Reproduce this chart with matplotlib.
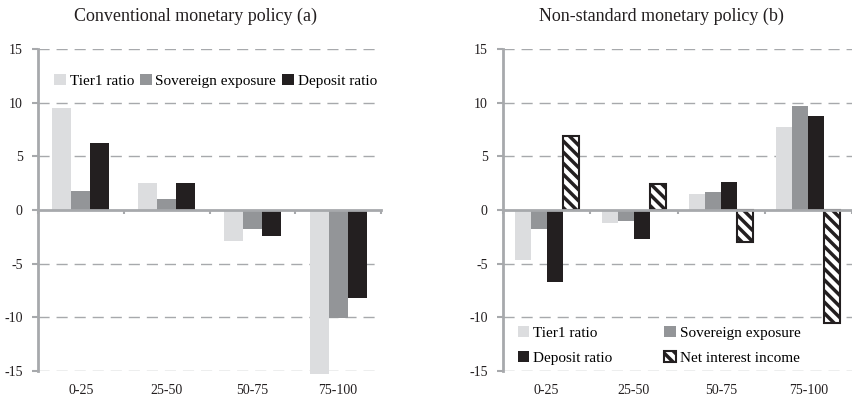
import matplotlib
matplotlib.use("Agg")
import matplotlib.pyplot as plt
import numpy as np

plt.rcParams['font.family'] = ['Liberation Serif', 'DejaVu Serif']
plt.rcParams['hatch.linewidth'] = 2.5

# data
categories = ["0-25", "25-50", "50-75", "75-100"]

conv_tier1 = [9.5, 2.5, -2.9, -15.3]
conv_sov = [1.8, 1.0, -1.8, -10.1]
conv_dep = [6.2, 2.5, -2.4, -8.2]

ns_tier1 = [-4.7, -1.2, 1.5, 7.7]
ns_sov = [-1.8, -1.0, 1.7, 9.7]
ns_dep = [-6.7, -2.7, 2.6, 8.8]
ns_nii = [6.9, 2.4, -3.0, -10.5]

yticks = [-15, -10, -5, 0, 5, 10, 15]

c_tier1 = "#dcdddf"
c_sov = "#939598"
c_dep = "#231f20"
axis_grey = "#a7a9ac"

fig = plt.figure(figsize=(8.52, 4.01), dpi=100)
ax1 = fig.add_axes([0.0446, 0.0748, 0.4026, 0.803])
ax2 = fig.add_axes([0.5904, 0.0748, 0.4096, 0.803])


def style_axis(ax):
    ax.set_xlim(-0.5, 3.5)
    ax.set_ylim(-15, 15)
    ax.set_yticks(yticks)
    ax.set_yticklabels([str(t) for t in yticks], fontsize=10, color="#231f20")
    for t in yticks:
        if t != 0:
            ax.axhline(t, color=axis_grey, lw=1.0, dashes=(8, 5), zorder=0)
    for s in ["top", "right"]:
        ax.spines[s].set_visible(False)
    ax.spines["bottom"].set_position(("data", 0))
    ax.spines["bottom"].set_color(axis_grey)
    ax.spines["left"].set_color(axis_grey)
    ax.spines["bottom"].set_linewidth(2)
    ax.spines["left"].set_linewidth(2)
    ax.spines["bottom"].set_zorder(3)
    ax.tick_params(axis="y", length=4, width=1.5, color=axis_grey, pad=7)
    # ticks at category boundaries on the zero line
    ax.set_xticks(np.arange(len(categories) + 1) - 0.5)
    ax.set_xticklabels([])
    ax.tick_params(axis="x", length=3, width=1.5, color=axis_grey, direction="out")
    for i, lab in enumerate(categories):
        ax.annotate(lab, (i, -15), xytext=(0, -9), textcoords="offset points",
                    ha="center", va="top", fontsize=10, color="#231f20",
                    annotation_clip=False)


# Conventional monetary policy (a)
x = np.arange(len(categories))
w1 = 0.222
ax1.bar(x - w1, conv_tier1, w1, color=c_tier1, label="Tier1 ratio", zorder=2, clip_on=False)
ax1.bar(x, conv_sov, w1, color=c_sov, label="Sovereign exposure", zorder=2)
ax1.bar(x + w1, conv_dep, w1, color=c_dep, label="Deposit ratio", zorder=2)
style_axis(ax1)
ax1.legend(loc="upper left", bbox_to_anchor=(0.03, 0.942), ncol=3, frameon=False,
           fontsize=11, handlelength=0.75, handleheight=0.75, handletextpad=0.25,
           columnspacing=0.4, borderaxespad=0)

# Non-standard monetary policy (b)
w2 = 0.184
b1 = ax2.bar(x - 1.5 * w2, ns_tier1, w2, color=c_tier1, label="Tier1 ratio", zorder=2)
b2 = ax2.bar(x - 0.5 * w2, ns_sov, w2, color=c_sov, label="Sovereign exposure", zorder=2)
b3 = ax2.bar(x + 0.5 * w2, ns_dep, w2, color=c_dep, label="Deposit ratio", zorder=2)
b4 = ax2.bar(x + 1.5 * w2, ns_nii, w2, color="white", edgecolor="#231f20",
             hatch="\\\\\\", lw=1.5, label="Net interest income", zorder=2)
style_axis(ax2)
# row-wise order like the original
ax2.legend([b1, b3, b2, b4],
           ["Tier1 ratio", "Deposit ratio", "Sovereign exposure", "Net interest income"],
           loc="lower left", bbox_to_anchor=(0.025, 0.0), ncol=2, frameon=False,
           fontsize=11, handlelength=0.75, handleheight=0.75, handletextpad=0.25,
           columnspacing=3.4, labelspacing=0.75, borderaxespad=0)

fig.text(195 / 852, 1 - 16 / 401, "Conventional monetary policy (a)", ha="center",
         va="center", fontsize=13, color="#231f20")
fig.text(661 / 852, 1 - 16 / 401, "Non-standard monetary policy (b)", ha="center",
         va="center", fontsize=13, color="#231f20")

fig.savefig("out.png", dpi=100)
